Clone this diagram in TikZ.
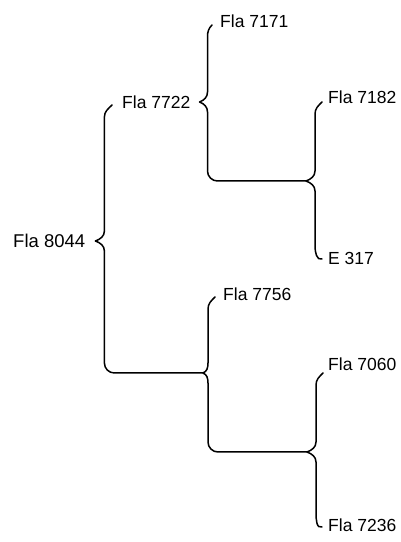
\documentclass[tikz,border=0pt]{standalone}
\usepackage{fontspec}
\setmainfont{Liberation Sans}
\usetikzlibrary{calc}

\begin{document}
\begin{tikzpicture}[
  x=1pt, y=1pt,
  taxon/.style={anchor=west, inner sep=1pt, font=\fontsize{17.5}{21}\selectfont},
  root/.style={taxon, font=\fontsize{18.5}{22}\selectfont},
  brace/.style={line width=1.5pt, line join=round, line cap=round},
]
\useasboundingbox (0,0) rectangle (400,542);
% labels
\node[root]  (n8044) at (12,301) {Fla 8044};
\node[taxon] (n7722) at (121,440) {Fla 7722};
\node[taxon] (n7171) at (219,521) {Fla 7171};
\node[taxon] (n7182) at (327,445) {Fla 7182};
\node[taxon] (e317)  at (327,284) {E 317};
\node[taxon] (n7756) at (222,248) {Fla 7756};
\node[taxon] (n7060) at (327,178) {Fla 7060};
\node[taxon] (n7236) at (327,17)  {Fla 7236};
% brace tips and spines
\coordinate (k8044) at ($(n8044.east)+(9,0)$);
\coordinate (k7722) at ($(n7722.east)+(8,0)$);
\coordinate (k7182) at (306,361);
\coordinate (k7756) at (203,169);
\coordinate (k7060) at (307,90);
\coordinate (s8044) at ($(k8044)+(9,0)$);
\coordinate (s7722) at ($(k7722)+(8,0)$);
\coordinate (s7182) at ($(k7182)+(9,0)$);
\coordinate (s7756) at ($(k7756)+(5,0)$);
\coordinate (s7060) at ($(k7060)+(9,0)$);
% braces
\draw[brace] ($(n7722.west)+(-9,-3)$) to[out=225,in=90] ($(n7722.west -| s8044)+(0,-15)$)
  -- ($(s8044)+(0,10)$) to[out=-90,in=20] (k8044) to[out=-20,in=90] ($(s8044)+(0,-10)$)
  -- ($(k7756 -| s8044)+(0,10)$) to[out=-90,in=180] ($(k7756 -| s8044)+(10,0)$) -- (k7756);
\draw[brace] ($(n7171.west)+(-7,-4)$) to[out=225,in=90] ($(n7171.west -| s7722)+(0,-16)$)
  -- ($(s7722)+(0,10)$) to[out=-90,in=20] (k7722) to[out=-20,in=90] ($(s7722)+(0,-10)$)
  -- ($(k7182 -| s7722)+(0,10)$) to[out=-90,in=180] ($(k7182 -| s7722)+(10,0)$) -- (k7182);
\draw[brace] ($(n7182.west)+(-5,-5)$) to[out=225,in=90] ($(n7182.west -| s7182)+(0,-17)$)
  -- ($(s7182)+(0,10)$) to[out=-90,in=20] (k7182) to[out=-20,in=90] ($(s7182)+(0,-10)$)
  -- ($(e317.west -| s7182)+(0,12)$) to[out=-90,in=200] ($(e317.west)+(-5,-1)$);
\draw[brace] ($(n7756.west)+(-7,-3)$) to[out=225,in=90] ($(n7756.west -| s7756)+(0,-15)$)
  -- ($(s7756)+(0,10)$) to[out=-90,in=20] (k7756) to[out=-20,in=90] ($(s7756)+(0,-10)$)
  -- ($(k7060 -| s7756)+(0,10)$) to[out=-90,in=180] ($(k7060 -| s7756)+(10,0)$) -- (k7060);
\draw[brace] ($(n7060.west)+(-4,-9)$) to[out=225,in=90] ($(n7060.west -| s7060)+(0,-21)$)
  -- ($(s7060)+(0,10)$) to[out=-90,in=20] (k7060) to[out=-20,in=90] ($(s7060)+(0,-10)$)
  -- ($(n7236.west -| s7060)+(0,12)$) to[out=-90,in=200] ($(n7236.west)+(-5,-2)$);
\end{tikzpicture}
\end{document}
